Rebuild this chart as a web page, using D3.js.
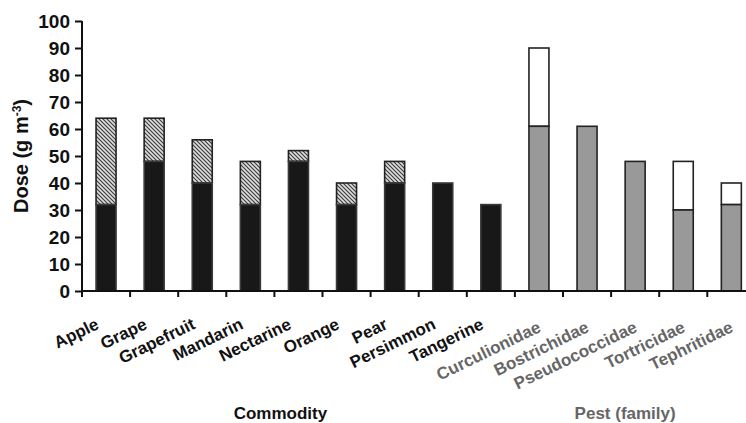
<!DOCTYPE html>
<html><head><meta charset="utf-8">
<script src="https://cdn.jsdelivr.net/npm/d3@7"></script>
<style>
body{margin:0;background:#fff;}
svg{display:block;}
text{font-family:"Liberation Sans",Arial,sans-serif;font-weight:bold;}
</style></head>
<body><svg id="c" width="746" height="423"></svg>
<script>
const categories = ["Apple","Grape","Grapefruit","Mandarin","Nectarine","Orange","Pear","Persimmon","Tangerine","Curculionidae","Bostrichidae","Pseudococcidae","Tortricidae","Tephritidae"];
const groups = ["Commodity","Commodity","Commodity","Commodity","Commodity","Commodity","Commodity","Commodity","Commodity","Pest (family)","Pest (family)","Pest (family)","Pest (family)","Pest (family)"];
const baseDose = [32,48,40,32,48,32,40,40,32,61,61,48,30,32];
const extraDose = [32,16,16,16,4,8,8,0,0,29,0,0,18,8];
const yTicks = [0,10,20,30,40,50,60,70,80,90,100];

const svg = d3.select("#c");
const m = {left:82, top:21, bottom:291};
const bandW = 48.1;
const x = d3.scaleBand().domain(categories).range([m.left, m.left + bandW*categories.length]).padding(0);
const y = d3.scaleLinear().domain([0,100]).range([m.bottom, m.top]);

const defs = svg.append("defs");
const pat = defs.append("pattern").attr("id","hatch").attr("patternUnits","userSpaceOnUse")
  .attr("width",4).attr("height",4);
pat.append("rect").attr("width",4).attr("height",4).attr("fill","#dcdcdc");
pat.append("path").attr("d","M-1,-1 L5,5 M-1,3 L1,5 M3,-1 L5,1").attr("stroke","#3a3a3a").attr("stroke-width",1.1);

const data = categories.map((c,i)=>({c, g:groups[i], b:baseDose[i], e:extraDose[i]}));
const bw = 20;
const bx = d => x(d.c) + x.bandwidth()/2 - bw/2;

// extra segments
svg.append("g").selectAll("rect").data(data.filter(d=>d.e>0)).join("rect")
  .attr("x",bx).attr("width",bw)
  .attr("y",d=>y(d.b+d.e)).attr("height",d=>y(d.b)-y(d.b+d.e))
  .attr("fill",d=>d.g==="Commodity"?"url(#hatch)":"#ffffff")
  .attr("stroke","#222").attr("stroke-width",1.6);
// base segments
svg.append("g").selectAll("rect").data(data).join("rect")
  .attr("x",bx).attr("width",bw)
  .attr("y",d=>y(d.b)).attr("height",d=>y(0)-y(d.b))
  .attr("fill",d=>d.g==="Commodity"?"#181818":"#999999")
  .attr("stroke",d=>d.g==="Commodity"?"#3a3a3a":"#222").attr("stroke-width",1.6);

// y axis
const ya = svg.append("g").attr("transform",`translate(${m.left},0)`)
  .call(d3.axisLeft(y).tickValues(yTicks).tickSize(7).tickPadding(5).tickFormat(d3.format("d")));
ya.select(".domain").attr("stroke","#111").attr("stroke-width",2).attr("d",`M0,${m.top}V${m.bottom+6}`);
ya.selectAll(".tick line").attr("stroke","#111").attr("stroke-width",2);
ya.selectAll(".tick text").attr("font-size",19).attr("font-family","Liberation Sans, Arial").attr("font-weight","bold").attr("fill","#111");

// x axis with ticks at band boundaries
const xa = svg.append("g");
xa.append("line").attr("x1",m.left).attr("x2",746).attr("y1",y(0)).attr("y2",y(0)).attr("stroke","#111").attr("stroke-width",2);
xa.selectAll("line.t").data(categories.slice(1)).join("line").attr("class","t")
  .attr("x1",d=>x(d)).attr("x2",d=>x(d)).attr("y1",y(0)).attr("y2",y(0)+6).attr("stroke","#111").attr("stroke-width",2);

// category labels
svg.append("g").selectAll("text").data(data).join("text")
  .attr("transform",d=>{
    const com = d.g==="Commodity";
    return `translate(${x(d.c)+x.bandwidth()/2 + (com?-6:3)},${com?328:331}) rotate(-26)`;
  })
  .attr("text-anchor","end").attr("font-size",17)
  .attr("fill",d=>d.g==="Commodity"?"#111":"#666")
  .text(d=>d.c);

// group titles
svg.append("text").attr("x",x("Nectarine")+x.bandwidth()/2-18).attr("y",419).attr("text-anchor","middle")
  .attr("font-size",17).attr("fill","#111").text("Commodity");
svg.append("text").attr("x",x("Pseudococcidae")+x.bandwidth()/2-10).attr("y",419).attr("text-anchor","middle")
  .attr("font-size",17).attr("fill","#666").text("Pest (family)");

// y title
const yt = svg.append("text").attr("transform",`translate(28,${(m.top+m.bottom)/2}) rotate(-90)`)
  .attr("text-anchor","middle").attr("font-size",20).attr("fill","#111");
yt.append("tspan").text("Dose (g m");
yt.append("tspan").attr("font-size",12).attr("dy",-7).text("-3");
yt.append("tspan").attr("dy",7).text(")");
</script></body></html>
